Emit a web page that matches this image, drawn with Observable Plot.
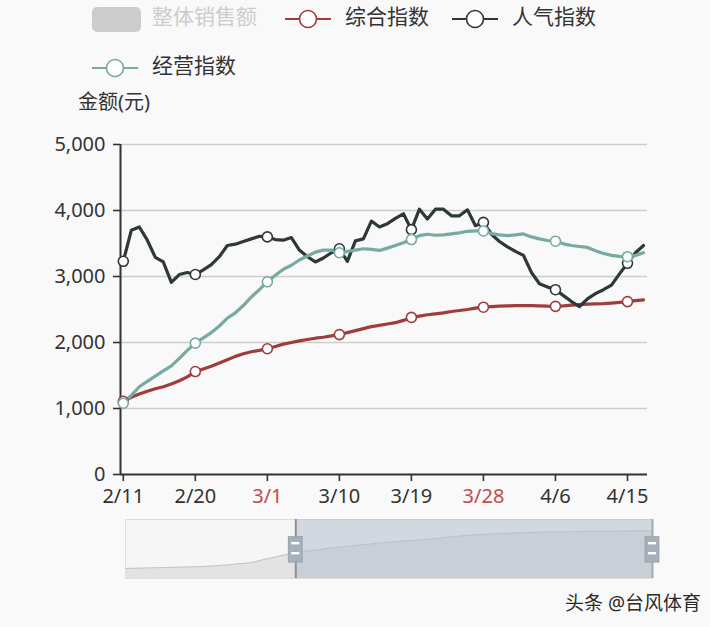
<!DOCTYPE html>
<html>
<head>
<meta charset="utf-8">
<script src="https://cdn.jsdelivr.net/npm/d3@7"></script>
<script src="https://cdn.jsdelivr.net/npm/@observablehq/plot@0.6"></script>
<style>
  html, body { margin:0; padding:0; background:#f9f9fa; }
  body { width:710px; height:627px; position:relative; overflow:hidden;
         font-family:"Noto Sans","Noto Sans CJK SC",sans-serif; color:#333; }
  .abs { position:absolute; white-space:nowrap; }
  .leg { font-size:21px; line-height:26px; }
  #main { position:absolute; left:0; top:120px; }
  #slider { position:absolute; left:0; top:519px; }
</style>
</head>
<body>
<div id="legend"></div>
<div class="abs" style="left:78px;top:89px;font-size:20px;line-height:26px;color:#333;">金额(元)</div>
<div id="main"></div>
<div id="slider"></div>
<div class="abs" style="left:565px;top:590px;font-size:19px;line-height:26px;color:#2a2a2a;text-shadow:0 0 2px #fff;">头条 @台风体育</div>
<script>
// ---- data ----
const seriesNames = ["整体销售额", "综合指数", "人气指数", "经营指数"];
const seriesColors = ["#cccccc", "#a03c3c", "#2e3838", "#76aaa2"];
const tickIndex = [0, 9, 18, 27, 36, 45, 54, 63];
const tickLabels = ["2/11", "2/20", "3/1", "3/10", "3/19", "3/28", "4/6", "4/15"];
const redLabels = ["3/1", "3/28"];
const yTicks = [0, 1000, 2000, 3000, 4000, 5000];

// 综合指数 (daily, 2/11 .. 4/17)
const composite = [1110,1170,1220,1260,1300,1330,1370,1420,1480,1560,
                   1600,1640,1690,1740,1790,1830,1860,1880,1905,1940,
                   1975,2000,2025,2045,2065,2080,2100,2120,2150,2180,
                   2210,2240,2260,2280,2300,2335,2380,2400,2420,2435,
                   2450,2470,2485,2500,2520,2535,2545,2550,2555,2558,
                   2560,2560,2555,2550,2548,2555,2565,2575,2580,2585,
                   2590,2598,2608,2620,2635,2645];
// 人气指数
const popularity = [3230,3700,3750,3550,3290,3220,2910,3030,3060,3030,
                    3100,3180,3300,3470,3490,3530,3570,3610,3600,3560,
                    3550,3590,3400,3300,3220,3280,3360,3420,3230,3540,
                    3570,3840,3750,3800,3880,3950,3710,4020,3870,4020,
                    4020,3920,3920,4010,3770,3820,3640,3530,3450,3380,
                    3320,3060,2890,2840,2800,2710,2620,2545,2660,2740,
                    2800,2870,3040,3200,3360,3470];
// 经营指数
const operation = [1080,1200,1330,1410,1490,1570,1645,1760,1880,1990,
                   2070,2150,2250,2370,2450,2560,2690,2800,2920,3020,
                   3110,3170,3250,3310,3370,3400,3400,3360,3380,3400,
                   3420,3410,3395,3430,3470,3510,3560,3620,3640,3625,
                   3630,3645,3660,3685,3690,3690,3650,3630,3620,3630,
                   3645,3600,3570,3545,3535,3495,3470,3455,3440,3390,
                   3350,3320,3305,3300,3320,3360];
// 整体销售额 (shown only in the zoom slider preview, relative units)
const totalSales = [17,17.3,17.6,18,18.3,18.6,19,19.3,19.6,20,
                    20.6,21.5,22.5,23.5,25,26,28.5,32,35,38,
                    41,44,46,47.5,49,51,52.5,54,55.5,57,
                    58,59.5,61,62,63,64,65,66,67.5,69,
                    70.5,71.5,73,74,74.5,75.5,76,76.5,77,77.5,
                    78,78.5,78.8,79,79.2,79.4,79.6,79.8,80,80,
                    80.2,80.4,80.6,80.8,81,81];
const zoomRange = [21, 65]; // selected window of the slider (index of days)

// ---- legend ----
const legend = document.getElementById("legend");
function lineSym(color) {
  return `<svg width="48" height="26" style="vertical-align:middle"><line x1="1" x2="47" y1="13" y2="13" stroke="${color}" stroke-width="2"/><circle cx="24" cy="13" r="8.5" fill="#fff" stroke="${color}" stroke-width="1.6"/></svg>`;
}
const legItems = [
  {left:92, top:4, sym:`<div style="display:inline-block;width:49px;height:25px;border-radius:5px;background:#cccccc;vertical-align:middle"></div>`, text:seriesNames[0], tcolor:"#cccccc", tleft:152},
  {left:284, top:4, sym:lineSym(seriesColors[1]), text:seriesNames[1], tcolor:"#333", tleft:345},
  {left:451, top:4, sym:lineSym(seriesColors[2]), text:seriesNames[2], tcolor:"#333", tleft:512},
  {left:91, top:53, sym:lineSym(seriesColors[3]), text:seriesNames[3], tcolor:"#333", tleft:152}
];
for (const it of legItems) {
  legend.insertAdjacentHTML("beforeend",
    `<div class="abs leg" style="left:${it.left}px;top:${it.top}px;height:26px">${it.sym}</div>` +
    `<div class="abs leg" style="left:${it.tleft}px;top:${it.top - 1}px;color:${it.tcolor}">${it.text}</div>`);
}

// ---- main chart ----
const rows = [];
const series = [["综合指数", composite], ["人气指数", popularity], ["经营指数", operation]];
for (const [name, vals] of series) vals.forEach((v, i) => rows.push({name, i, v}));
const colorOf = name => seriesColors[seriesNames.indexOf(name)];
const xDomain = [-0.35, 65.5];
const font = "'Noto Sans','Noto Sans CJK SC',sans-serif";

const main = Plot.plot({
  width: 710, height: 400,
  marginLeft: 120, marginRight: 63, marginTop: 24, marginBottom: 46,
  style: {background: "transparent", fontFamily: font, fontSize: "20px", color: "#333", overflow: "visible"},
  x: {domain: xDomain, axis: null},
  y: {domain: [0, 5000], axis: null},
  marks: [
    Plot.ruleY(yTicks.filter(d => d > 0), {stroke: "#cdcdcd", strokeWidth: 1.6}),
    Plot.axisY({ticks: yTicks, label: null, tickSize: 7, tickPadding: 8, tickFormat: d3.format(","), fontSize: 20, fill: "#333", stroke: "#333", strokeWidth: 1.6}),
    Plot.ruleX([xDomain[0]], {stroke: "#333", strokeWidth: 2}),
    Plot.ruleY([0], {stroke: "#333", strokeWidth: 2}),
    Plot.axisX({ticks: tickIndex, label: null, tickSize: 7, tickFormat: () => "", stroke: "#333", strokeWidth: 1.6}),
    Plot.text(tickIndex, {x: d => d, frameAnchor: "bottom", dy: 22, lineAnchor: "middle",
      text: (d, k) => tickLabels[k], fontSize: 20,
      fill: (d, k) => redLabels.includes(tickLabels[k]) ? "#c24a4a" : "#333"}),
    Plot.line(rows, {x: "i", y: "v", z: "name", stroke: d => colorOf(d.name), strokeWidth: 3.2, curve: "linear"}),
    Plot.dot(rows.filter(d => tickIndex.includes(d.i)), {x: "i", y: "v", r: 5, fill: "#fff", stroke: d => colorOf(d.name), strokeWidth: 1.6})
  ]
});
document.getElementById("main").appendChild(main);

// ---- zoom slider ----
const sRows = totalSales.map((v, i) => ({i, v}));
const [s0, s1] = zoomRange;
const slider = Plot.plot({
  width: 710, height: 60,
  marginLeft: 125, marginRight: 58, marginTop: 0, marginBottom: 1,
  style: {background: "transparent", overflow: "visible"},
  x: {domain: [0, 65], axis: null},
  y: {domain: [0, 100], axis: null},
  marks: [
    Plot.frame({fill: "#f6f6f7", stroke: "#dddddd"}),
    Plot.areaY(sRows, {x: "i", y: "v", fill: "#e3e3e3"}),
    Plot.line(sRows, {x: "i", y: "v", stroke: "#c4c4c4", strokeWidth: 1}),
    Plot.rect([zoomRange], {x1: d => d[0], x2: d => d[1], y1: 0, y2: 100, fill: "#b4bfcd", fillOpacity: 0.55}),
    Plot.ruleX([s0], {stroke: "#8f8f8f", strokeWidth: 2}),
    Plot.ruleX([s1], {stroke: "#a8a8a8", strokeWidth: 2}),
    Plot.rect(zoomRange, {x1: d => d - 0.85, x2: d => d + 0.85, y1: 27, y2: 70, fill: "#a6b0bc", stroke: "#98a2ae", strokeWidth: 1}),
    Plot.rect(zoomRange, {x1: d => d - 0.5, x2: d => d + 0.5, y1: 57, y2: 61, fill: "#ffffff"}),
    Plot.rect(zoomRange, {x1: d => d - 0.5, x2: d => d + 0.5, y1: 40, y2: 44, fill: "#ffffff"})
  ]
});
document.getElementById("slider").appendChild(slider);
</script>
</body>
</html>
